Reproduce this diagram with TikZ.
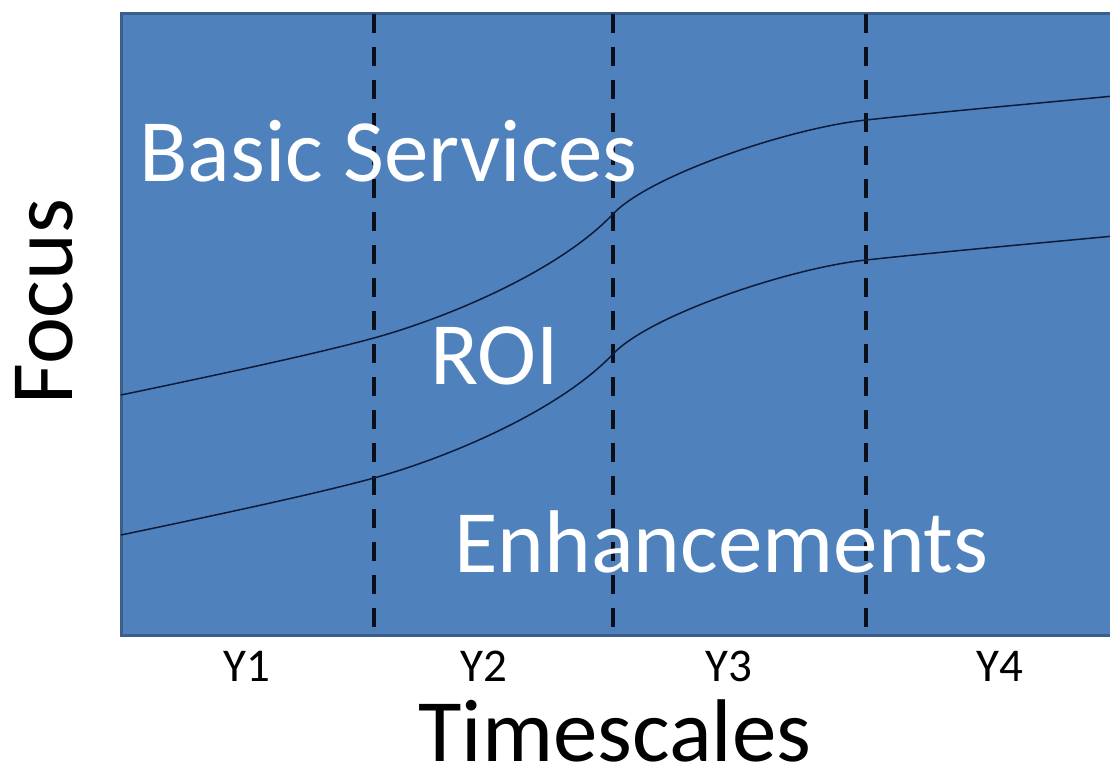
\documentclass[tikz,border=0pt]{standalone}
\usepackage{fontspec}
\setmainfont{Carlito}
\definecolor{boxblue}{HTML}{4F81BD}
\definecolor{boxedge}{HTML}{3A5F8C}
\definecolor{curvecol}{HTML}{0E1B38}
\definecolor{dashcol}{HTML}{0A0F1A}
\tikzset{
  panel/.style={fill=boxblue, draw=boxedge, line width=1.5pt},
  divider/.style={draw=dashcol, line width=2pt, dash pattern=on 9.5pt off 7pt},
  curve/.style={draw=curvecol, line width=0.75pt},
  biglabel/.style={inner sep=0pt, text=white, font=\fontsize{44.5pt}{52pt}\selectfont},
  axislabel/.style={inner sep=0pt, text depth=0pt, text=black, font=\fontsize{44.5pt}{52pt}\selectfont},
  yearlabel/.style={inner sep=0pt, text=black, font=\fontsize{23.5pt}{28pt}\selectfont, anchor=base}
}
\begin{document}
\begin{tikzpicture}[x=0.5pt,y=-0.5pt]
\useasboundingbox (0,0) rectangle (1110,770);
\clip (0,0) rectangle (1110,770);
\fill[white] (0,0) rectangle (1110,770);
\draw[panel] (121,14) rectangle (1130,635);
\coordinate (d1t) at (374,14); \coordinate (d1b) at (374,635);
\coordinate (d2t) at (613,14); \coordinate (d2b) at (613,635);
\coordinate (d3t) at (866,14); \coordinate (d3b) at (866,635);
\draw[divider] (d1t) -- (d1b);
\draw[divider] (d2t) -- (d2b);
\draw[divider] (d3t) -- (d3b);
\foreach \dy in {0,140} {
  \draw[curve, shift={(0,\dy)}] (121,395) .. controls (260,366) and (330,350) .. (374,338)
    .. controls (450,317) and (560,270) .. (613,214)
    .. controls (650,175) and (790,128) .. (866,120)
    .. controls (940,112) and (1040,103) .. (1114,96);
}
\node[biglabel, anchor=base west] (basic) at (139,182) {Basic Services};
\node[biglabel, anchor=base west] (roi) at (430,385) {ROI};
\node[biglabel, anchor=base west] (enh) at (454,573) {Enhancements};
\node[axislabel, anchor=base west] (time) at (418,761) {Timescales};
\node[axislabel, anchor=base west, rotate=90] (focus) at (72,405) {Focus};
\node[yearlabel] (y1) at (247,682) {Y1};
\node[yearlabel] (y2) at (484,682) {Y2};
\node[yearlabel] (y3) at (729,682) {Y3};
\node[yearlabel] (y4) at (1000,682) {Y4};
\end{tikzpicture}
\end{document}
